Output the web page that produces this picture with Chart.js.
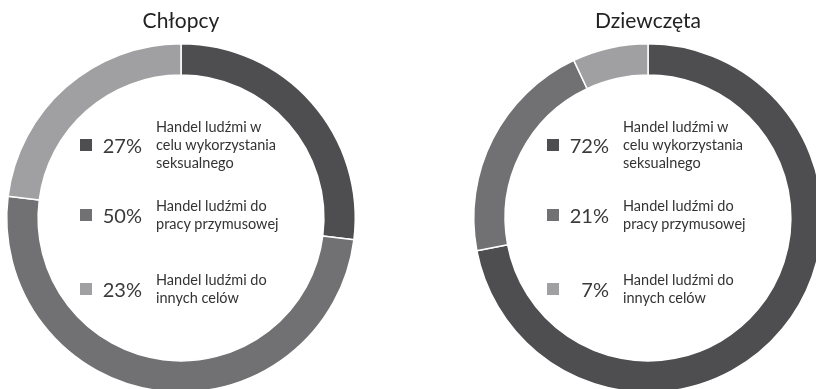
<!DOCTYPE html>
<html>
<head>
<meta charset="utf-8">
<script src="https://cdn.jsdelivr.net/npm/chart.js@4"></script>
<style>
  html, body { margin: 0; padding: 0; background: #fff; }
  #wrap { position: relative; width: 816px; height: 389px; overflow: hidden; font-family: Lato, "Open Sans", sans-serif; color: #333; }
  canvas { position: absolute; top: 0; }
  .title { position: absolute; top: 6px; width: 300px; text-align: center; font-size: 21px; color: #222; line-height: 28px; }
  .row { position: absolute; display: flex; align-items: center; }
  .sq { width: 12px; height: 12px; }
  .pct { width: 50px; text-align: right; font-size: 20px; color: #3a3a3a; margin-right: 14px; }
  .lbl { font-size: 14.5px; line-height: 18px; white-space: pre; }
</style>
</head>
<body>
<div id="wrap"></div>
<script>
// ========= DATA ========= //
const categories = [
    "Handel ludźmi w\ncelu wykorzystania\nseksualnego",
    "Handel ludźmi do\npracy przymusowej",
    "Handel ludźmi do\ninnych celów"
];
const titles = ["Chłopcy", "Dziewczęta"];
const boysValues = [27, 50, 23];
const girlsValues = [72, 21, 7];
const colors = ["#4e4e50", "#717173", "#a0a0a2"];

const wrap = document.getElementById("wrap");

// ========= ONE DOUGHNUT ========= //
function makeDoughnut(cx, title, values) {
    const canvas = document.createElement("canvas");
    canvas.width = 362;
    canvas.height = 436;
    canvas.style.left = (cx - 181) + "px";
    wrap.appendChild(canvas);

    new Chart(canvas, {
        type: "doughnut",
        data: {
            labels: categories,
            datasets: [{
                data: values,
                backgroundColor: colors,
                borderColor: "#fff",
                borderWidth: 1.5
            }]
        },
        options: {
            responsive: false,
            animation: false,
            cutout: "82%",
            layout: { padding: 6 },
            plugins: { legend: { display: false }, tooltip: { enabled: false } }
        }
    });

    const t = document.createElement("div");
    t.className = "title";
    t.style.left = (cx - 150) + "px";
    t.textContent = title;
    wrap.appendChild(t);

    // legend inside the ring
    const rowY = [145, 215, 289];
    values.forEach((v, i) => {
        const row = document.createElement("div");
        row.className = "row";
        row.style.left = (cx - 101) + "px";
        const lines = categories[i].split("\n").length;
        row.style.top = (rowY[i] - lines * 9) + "px";
        row.style.height = (lines * 18) + "px";

        const sq = document.createElement("div");
        sq.className = "sq";
        sq.style.background = colors[i];
        const pct = document.createElement("div");
        pct.className = "pct";
        pct.textContent = v + "%";
        const lbl = document.createElement("div");
        lbl.className = "lbl";
        lbl.textContent = categories[i];

        row.appendChild(sq);
        row.appendChild(pct);
        row.appendChild(lbl);
        wrap.appendChild(row);
    });
}

makeDoughnut(181, titles[0], boysValues);
makeDoughnut(648, titles[1], girlsValues);
</script>
</body>
</html>
